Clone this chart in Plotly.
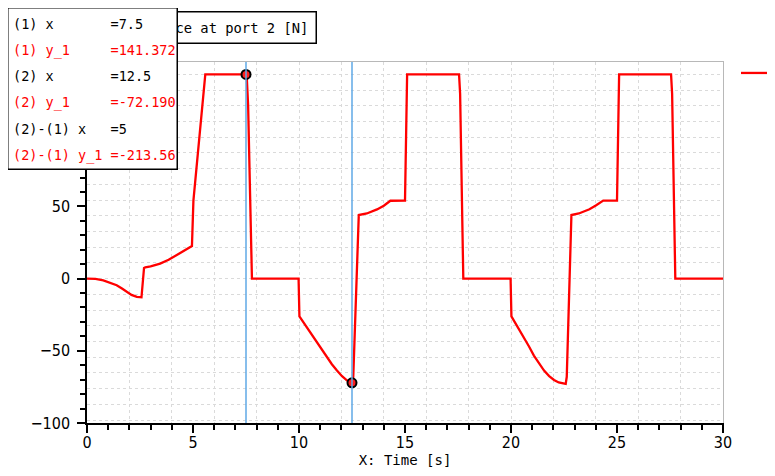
import plotly.graph_objects as go

# --- data ------------------------------------------------------------------
time_s = [
    0.0, 0.4, 0.77, 1.1, 1.4, 1.65, 1.87, 2.1, 2.35, 2.5, 2.57,
    2.69, 2.75, 3.0, 3.45, 3.85, 4.24, 4.6, 4.95,
    5.02, 5.58, 7.53, 7.6, 7.78,
    9.98, 10.02, 10.35, 10.69, 11.0, 11.32, 11.55, 11.79, 12.03, 12.27, 12.4, 12.5,
    12.56, 12.82, 13.2, 13.68, 14.0, 14.31,
    15.0, 15.1, 17.55, 17.6, 17.75,
    19.98, 20.02, 20.3, 20.61, 20.85, 21.08, 21.3, 21.56, 21.8, 22.03, 22.25, 22.45, 22.58,
    22.63, 22.85, 23.2, 23.7, 24.0, 24.35,
    25.0, 25.1, 27.55, 27.6, 27.75, 30.0,
]
force_n = [
    0.0, -0.2, -1.2, -2.7, -4.6, -6.9, -9.3, -11.3, -12.7, -13.2, -13.0,
    7.4, 7.8, 8.5, 10.4, 13.0, 16.2, 19.3, 22.5,
    54.0, 141.372, 141.372, 120.0, 0.0,
    0.0, -26.2, -33.5, -40.5, -47.5, -54.4, -59.3, -63.7, -67.6, -70.6, -71.7, -72.19,
    -68.0, 44.0, 45.1, 47.9, 50.5, 53.9,
    54.0, 141.372, 141.372, 128.0, 0.0,
    0.0, -26.2, -33.0, -40.5, -47.0, -53.3, -58.5, -63.7, -67.5, -70.2, -71.9, -72.8, -72.9,
    -68.0, 44.0, 45.1, 48.0, 50.6, 54.0,
    54.0, 141.372, 141.372, 128.0, 0.0, 0.0,
]

cursor_x = [7.5, 12.5]
cursor_y = [141.372, -72.190]

readout_labels = ["(1) x", "(1) y_1", "(2) x", "(2) y_1", "(2)-(1) x", "(2)-(1) y_1"]
readout_values = ["7.5", "141.372", "12.5", "-72.190", "5", "-213.562"]
readout_colors = ["black", "#ff0000", "black", "#ff0000", "black", "#ff0000"]

# --- layout geometry (page pixels; the page body adds an 8 px margin) -------
OFF = 8
W, H = 775 - OFF, 476 - OFF
L, R, T, B = 87, 723, 62, 423
MONO = "DejaVu Sans Mono, Liberation Mono, monospace"
NARROW = "Liberation Sans Narrow, DejaVu Sans Condensed, Arial Narrow, sans-serif"


def px_x(p):
    return (p - L) / (R - L)


def px_y(p):
    return (B - p) / (B - T)


fig = go.Figure()

fig.add_trace(go.Scatter(
    x=time_s, y=force_n, mode="lines", name="y_1",
    line=dict(color="#ff0000", width=2.3),
))
fig.add_trace(go.Scatter(
    x=cursor_x, y=cursor_y, mode="markers", showlegend=False,
    marker=dict(symbol="circle", size=9, color="#ff2020", line=dict(color="black", width=2)),
))
# empty trace so the overlay axes (grid + light frame) get a subplot
fig.add_trace(go.Scatter(x=[], y=[], xaxis="x2", yaxis="y2", showlegend=False))

for cx in cursor_x:
    fig.add_vline(x=cx, line=dict(color="#5fa8e6", width=1.5))

axis_common = dict(
    showline=True, linecolor="black", linewidth=1.5,
    ticks="outside", ticklen=8, tickwidth=1.5, tickcolor="black",
    showgrid=False, zeroline=False,
    tickfont=dict(family=NARROW, size=16, color="black"),
)

fig.update_layout(
    width=W, height=H,
    margin=dict(l=L - OFF, r=W - (R - OFF), t=T - OFF, b=H - (B - OFF), autoexpand=False),
    paper_bgcolor="white", plot_bgcolor="white",
    xaxis=dict(
        range=[0, 30], tick0=0, dtick=5,
        minor=dict(dtick=1, ticks="outside", ticklen=5, tickwidth=1.5,
                   tickcolor="black", showgrid=False),
        title=dict(text="X: Time [s]", font=dict(family=MONO, size=14, color="black"),
                   standoff=2),
        ticklabelstandoff=-4,
        **axis_common,
    ),
    yaxis=dict(
        range=[-100, 150], tick0=0, dtick=50,
        minor=dict(dtick=10, ticks="outside", ticklen=5, tickwidth=1.5,
                   tickcolor="black", showgrid=False),
        ticklabelstandoff=4,
        **axis_common,
    ),
    xaxis2=dict(
        overlaying="x", side="top", anchor="y", range=[0, 30], tick0=0, dtick=2,
        showgrid=True, gridcolor="#dadada", griddash="dot", gridwidth=1,
        showline=True, linecolor="#b8b8b8", linewidth=1,
        ticks="", showticklabels=False, zeroline=False,
    ),
    yaxis2=dict(
        overlaying="y", side="right", anchor="x", range=[-100, 150], tick0=0, dtick=10.88,
        showgrid=True, gridcolor="#dadada", griddash="dot", gridwidth=1,
        showline=True, linecolor="#b8b8b8", linewidth=1,
        ticks="", showticklabels=False, zeroline=False,
    ),
    legend=dict(
        x=px_x(736), y=px_y(73), xanchor="left", yanchor="middle",
        bgcolor="rgba(0,0,0,0)", borderwidth=0,
        font=dict(family=MONO, size=13, color="black"),
    ),
)

# title box (partly hidden under the cursor readout)
fig.add_annotation(
    xref="paper", yref="paper", x=px_x(317), y=px_y(27),
    xanchor="right", yanchor="middle", showarrow=False,
    text="Force at port 2 [N]", font=dict(family=MONO, size=13.8, color="black"),
    bgcolor="white", bordercolor="black", borderwidth=1.5, borderpad=7,
)

# cursor readout box
fig.add_annotation(
    xref="paper", yref="paper", x=px_x(7), y=px_y(7),
    xanchor="left", yanchor="top", showarrow=False,
    text=" ", width=168, height=160,
    bgcolor="white", bordercolor="black", borderwidth=1.5, borderpad=0,
)
for i, (lab, val, col) in enumerate(zip(readout_labels, readout_values, readout_colors)):
    line = lab.ljust(12).replace(" ", "\u00a0") + "=" + val
    fig.add_annotation(
        xref="paper", yref="paper", x=px_x(12), y=px_y(24 + 26.2 * i),
        xanchor="left", yanchor="middle", showarrow=False, align="left",
        text=line, width=163, borderpad=0,
        font=dict(family=MONO, size=13.5, color=col),
    )

fig.write_html("out.html")
